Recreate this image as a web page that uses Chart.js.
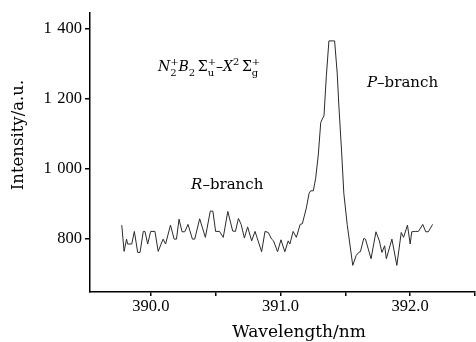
<!DOCTYPE html>
<html>
<head>
<meta charset="utf-8">
<script src="https://cdn.jsdelivr.net/npm/chart.js@4.4.1/dist/chart.umd.min.js"></script>
<style>
  body { margin: 0; background: #fff; }
  canvas { display: block; }
</style>
</head>
<body>
<canvas id="spectrumChart" width="476" height="342"></canvas>
<script>
// wavelength (nm) and intensity (a.u.)
const wavelength = [389.775, 389.793, 389.812, 389.820, 389.852, 389.872, 389.898, 389.916, 389.941, 389.954,
    389.975, 389.998, 390.031, 390.056, 390.094, 390.113, 390.151, 390.179, 390.197, 390.217,
    390.240, 390.261, 390.286, 390.320, 390.338, 390.376, 390.420, 390.458, 390.478, 390.499,
    390.529, 390.558, 390.593, 390.631, 390.652, 390.675, 390.696, 390.721, 390.746, 390.777,
    390.803, 390.818, 390.854, 390.880, 390.905, 390.931, 390.946, 390.977, 391.003, 391.033,
    391.059, 391.072, 391.097, 391.122, 391.151, 391.168, 391.199, 391.220, 391.233, 391.253,
    391.271, 391.291, 391.310, 391.322, 391.335, 391.353, 391.373, 391.417, 391.437, 391.450,
    391.471, 391.488, 391.514, 391.557, 391.583, 391.603, 391.616, 391.642, 391.655, 391.698,
    391.736, 391.762, 391.782, 391.803, 391.816, 391.859, 391.897, 391.931, 391.949, 391.979,
    392.000, 392.012, 392.043, 392.064, 392.097, 392.120, 392.140, 392.173];
const intensity = [839, 764, 799, 785, 785, 821, 761, 761, 821, 821,
    785, 821, 821, 764, 799, 785, 839, 799, 799, 856,
    820, 820, 841, 799, 799, 857, 804, 879, 879, 821,
    821, 804, 878, 822, 821, 858, 841, 802, 834, 794,
    821, 804, 763, 821, 818, 799, 794, 763, 797, 763,
    794, 785, 821, 804, 841, 843, 888, 930, 937, 937,
    973, 1039, 1132, 1142, 1151, 1264, 1365, 1365, 1273, 1179,
    1048, 930, 841, 724, 752, 761, 763, 801, 799, 743,
    820, 794, 761, 780, 743, 799, 724, 818, 804, 839,
    785, 820, 821, 821, 841, 820, 820, 841];

const xTicks = [390, 390.5, 391, 391.5, 392, 392.5];
const xLabelled = [390, 391, 392];
const yTicks = [800, 1000, 1200, 1400];

const tickFont = '16.5px "Liberation Serif", serif';
const titleFont = '"DejaVu Serif", serif';

// text drawn on top of the plot
const annotate = {
    id: 'annotate',
    afterDraw(chart) {
        const ctx = chart.ctx;
        const xs = chart.scales.x, ys = chart.scales.y;
        ctx.save();
        ctx.fillStyle = '#000';
        ctx.textBaseline = 'alphabetic';
        ctx.textAlign = 'left';

        // axis titles
        ctx.font = '17px ' + titleFont;
        ctx.textAlign = 'center';
        ctx.fillText('Wavelength/nm', 299, 337);
        ctx.save();
        ctx.translate(23, 135);
        ctx.rotate(-Math.PI / 2);
        ctx.font = '16.5px ' + titleFont;
        ctx.fillText('Intensity/a.u.', 0, 0);
        ctx.restore();
        ctx.textAlign = 'left';

        // runs: [text, italic, size, shift, advance]
        function runs(list, x, y) {
            let cx = x, pending = 0;
            list.forEach(r => {
                ctx.font = (r[1] ? 'italic ' : '') + r[2] + 'px ' + titleFont;
                ctx.fillText(r[0], cx, y + r[3]);
                const w = ctx.measureText(r[0]).width;
                if (r[4]) { cx += Math.max(w, pending); pending = 0; }
                else pending = Math.max(pending, w);
            });
        }

        runs([['R', true, 15, 0, true], ['\u2013branch', false, 15, 0, true]],
            xs.getPixelForValue(390.31), ys.getPixelForValue(942));
        runs([['P', true, 15, 0, true], ['\u2013branch', false, 15, 0, true]],
            xs.getPixelForValue(391.667), ys.getPixelForValue(1233));

        runs([
            ['N', true, 14, 0, true], ['2', false, 10, 5, false], ['+', false, 10, -6, true],
            ['B', true, 14, 0, true], ['2', false, 10, 5, true], [' ', false, 8, 0, true],
            ['\u03a3', false, 14, 0, true], ['u', false, 10, 5, false], ['+', false, 10, -6, true],
            ['\u2013', false, 14, 0, true],
            ['X', true, 14, 0, true], ['2', false, 10, -6, true], [' ', false, 8, 0, true],
            ['\u03a3', false, 14, 0, true], ['g', false, 10, 5, false], ['+', false, 10, -6, true]
        ], xs.getPixelForValue(390.054), ys.getPixelForValue(1278));
        ctx.restore();
    }
};

const spectrumChart = new Chart(document.getElementById('spectrumChart').getContext('2d'), {
    type: 'line',
    data: {
        datasets: [{
            data: wavelength.map((w, i) => ({ x: w, y: intensity[i] })),
            borderColor: '#2a2a2a',
            borderWidth: 1,
            pointRadius: 0,
            tension: 0,
            fill: false
        }]
    },
    options: {
        responsive: false,
        animation: false,
        layout: { padding: { left: 0, right: 0, top: 10, bottom: 0 } },
        plugins: {
            legend: { display: false },
            tooltip: { enabled: false }
        },
        scales: {
            x: {
                type: 'linear',
                min: 389.53,
                max: 392.5,
                afterBuildTicks: axis => { axis.ticks = xTicks.map(v => ({ value: v })); },
                afterFit: axis => { axis.height = 50; },
                ticks: {
                    font: { family: '"Liberation Serif", serif', size: 16.5 },
                    color: '#000',
                    padding: 1,
                    maxRotation: 0,
                    autoSkip: false,
                    callback: v => xLabelled.includes(v) ? v.toFixed(1) : ''
                },
                grid: { drawOnChartArea: false, tickLength: 4, color: '#000', lineWidth: 1.5 },
                border: { color: '#000', width: 1.5 }
            },
            y: {
                min: 648,
                max: 1445,
                afterBuildTicks: axis => { axis.ticks = yTicks.map(v => ({ value: v })); },
                afterFit: axis => { axis.width = 90; },
                ticks: {
                    font: { family: '"Liberation Serif", serif', size: 16.5 },
                    color: '#000',
                    padding: 3,
                    callback: v => v >= 1000 ? Math.floor(v / 1000) + '\u2004' + String(v % 1000).padStart(3, '0') : String(v)
                },
                grid: { drawOnChartArea: false, tickLength: 5, color: '#000', lineWidth: 1.5 },
                border: { color: '#000', width: 1.5 }
            }
        }
    },
    plugins: [annotate]
});
</script>
</body>
</html>
